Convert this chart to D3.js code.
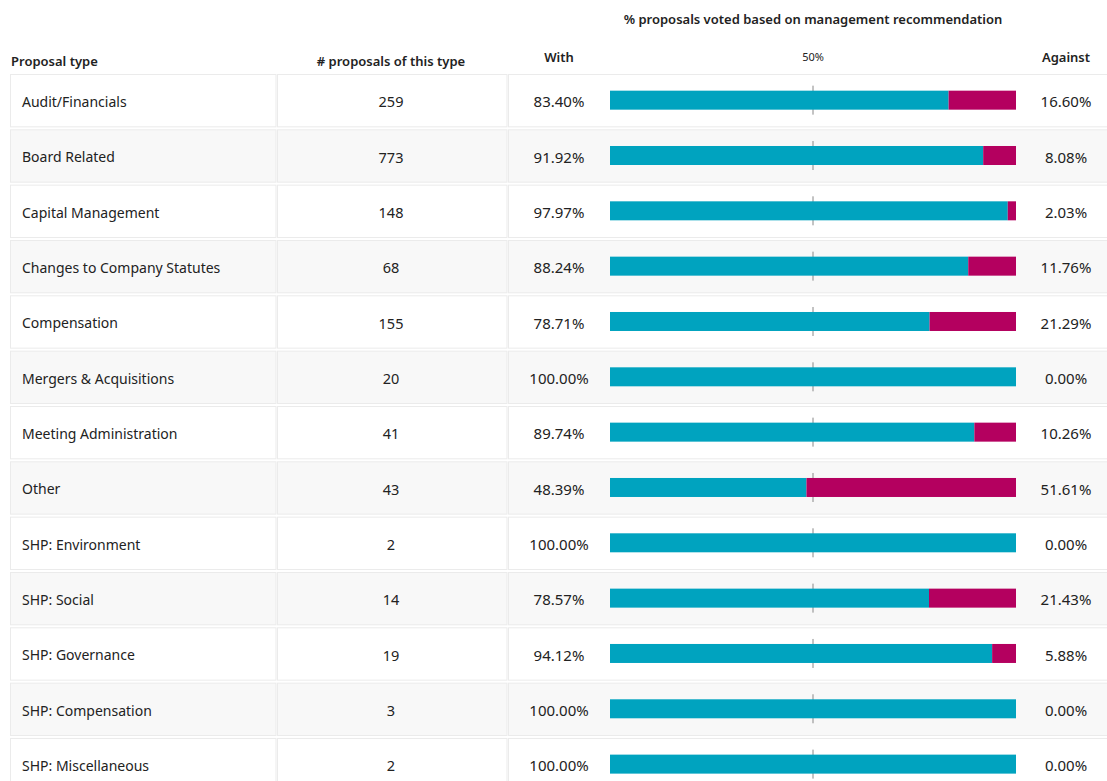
<!DOCTYPE html>
<html>
<head>
<meta charset="utf-8">
<script src="https://cdn.jsdelivr.net/npm/d3@7"></script>
<style>
  body { margin: 0; background: #fff; }
  svg text { font-family: "Noto Sans", "Open Sans", sans-serif; fill: #222; }
</style>
</head>
<body>
<div id="chart-container"></div>
<script>
// Data
const proposalTypes = ["Audit/Financials", "Board Related", "Capital Management", "Changes to Company Statutes",
  "Compensation", "Mergers & Acquisitions", "Meeting Administration", "Other", "SHP: Environment",
  "SHP: Social", "SHP: Governance", "SHP: Compensation", "SHP: Miscellaneous"];
const proposalCounts = [259, 773, 148, 68, 155, 20, 41, 43, 2, 14, 19, 3, 2];
const withPct = [83.40, 91.92, 97.97, 88.24, 78.71, 100.00, 89.74, 48.39, 100.00, 78.57, 94.12, 100.00, 100.00];
const againstPct = [16.60, 8.08, 2.03, 11.76, 21.29, 0.00, 10.26, 51.61, 0.00, 21.43, 5.88, 0.00, 0.00];

const data = proposalTypes.map((t, i) => ({
  type: t, count: proposalCounts[i], with: withPct[i], against: againstPct[i]
}));

const width = 1107;
const height = 781;

const svg = d3.select("#chart-container")
  .append("svg")
  .attr("width", width)
  .attr("height", height);

// Scales
const y = d3.scaleBand()
  .domain(proposalTypes)
  .range([73, 73 + 13 * 55.33])
  .paddingInner(0.036)
  .paddingOuter(0.018);

const x = d3.scaleLinear()
  .domain([0, 100])
  .range([610, 1016]);

// Columns (cell boxes)
const cols = [
  { x0: 10.5, x1: 276 },
  { x0: 277.5, x1: 507 },
  { x0: 508.5, x1: 1110 }
];

// Headers
svg.append("text")
  .attr("x", x(50)).attr("y", 24)
  .attr("text-anchor", "middle")
  .style("font-size", "13px").style("font-weight", 600)
  .text("% proposals voted based on management recommendation");

svg.append("text")
  .attr("x", 11).attr("y", 66)
  .style("font-size", "13px").style("font-weight", 600)
  .text("Proposal type");

svg.append("text")
  .attr("x", 391).attr("y", 66)
  .attr("text-anchor", "middle")
  .style("font-size", "13px").style("font-weight", 600)
  .text("# proposals of this type");

svg.append("text")
  .attr("x", 559).attr("y", 62)
  .attr("text-anchor", "middle")
  .style("font-size", "13px").style("font-weight", 600)
  .text("With");

svg.append("text")
  .attr("x", 1066).attr("y", 62)
  .attr("text-anchor", "middle")
  .style("font-size", "13px").style("font-weight", 600)
  .text("Against");

svg.append("text")
  .attr("x", x(50)).attr("y", 61)
  .attr("text-anchor", "middle")
  .style("font-size", "11px")
  .text("50%");

// Rows
const rows = svg.selectAll(".row")
  .data(data)
  .join("g")
  .attr("class", "row")
  .attr("transform", d => `translate(0,${y(d.type)})`);

const bh = y.bandwidth();
const ty = bh / 2 + 1.5;

cols.forEach(c => {
  rows.append("rect")
    .attr("x", c.x0)
    .attr("y", 0.5)
    .attr("width", c.x1 - c.x0)
    .attr("height", bh - 1)
    .attr("fill", (d, i) => i % 2 ? "#f8f8f8" : "#fff")
    .attr("stroke", "#ebebeb")
    .attr("stroke-width", 1);
});

rows.append("text")
  .attr("x", 22)
  .attr("y", ty)
  .attr("dy", "0.35em")
  .style("font-size", "14px")
  .text(d => d.type);

rows.append("text")
  .attr("x", 391)
  .attr("y", ty)
  .attr("dy", "0.35em")
  .attr("text-anchor", "middle")
  .style("font-size", "14.5px")
  .text(d => d.count);

rows.append("text")
  .attr("x", 559)
  .attr("y", ty)
  .attr("dy", "0.35em")
  .attr("text-anchor", "middle")
  .style("font-size", "15px")
  .text(d => d.with.toFixed(2) + "%");

rows.append("text")
  .attr("x", 1066)
  .attr("y", ty)
  .attr("dy", "0.35em")
  .attr("text-anchor", "middle")
  .style("font-size", "15px")
  .text(d => d.against.toFixed(2) + "%");

// 50% tick behind the bars
rows.append("line")
  .attr("x1", x(50)).attr("x2", x(50))
  .attr("y1", bh / 2 - 15).attr("y2", bh / 2 + 14)
  .attr("stroke", "#888")
  .attr("stroke-width", 1);

const barH = 19;

rows.append("rect")
  .attr("x", x(0))
  .attr("y", bh / 2 - barH / 2 - 0.5)
  .attr("width", d => x(d.with) - x(0))
  .attr("height", barH)
  .attr("fill", "#00a3bf");

rows.append("rect")
  .attr("x", d => x(d.with))
  .attr("y", bh / 2 - barH / 2 - 0.5)
  .attr("width", d => x(100) - x(d.with))
  .attr("height", barH)
  .attr("fill", "#b4005f");
</script>
</body>
</html>
